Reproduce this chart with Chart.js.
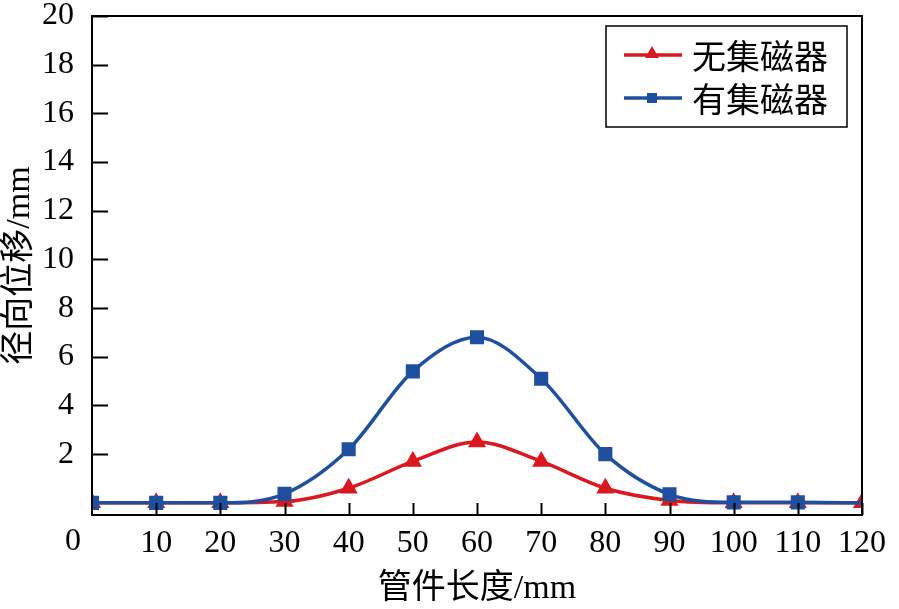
<!DOCTYPE html>
<html>
<head>
<meta charset="utf-8">
<script src="https://cdn.jsdelivr.net/npm/chart.js@4/dist/chart.umd.min.js"></script>
<style>
  html, body { margin: 0; padding: 0; background: #fff; }
  #wrap { width: 899px; height: 609px; }
</style>
</head>
<body>
<div id="wrap"><canvas id="chart" width="899" height="609"></canvas></div>
<script>
const xValues = [0, 10, 20, 30, 40, 50, 60, 70, 80, 90, 100, 110, 120];
const redValues = [0, 0, 0, 0.05, 0.6, 1.7, 2.5, 1.7, 0.6, 0.1, 0, 0, 0];
const blueValues = [0, 0, 0, 0.37, 2.2, 5.4, 6.8, 5.1, 2.0, 0.35, 0.02, 0.02, 0];
const seriesNames = ["无集磁器", "有集磁器"];
const xTicks = [10, 20, 30, 40, 50, 60, 70, 80, 90, 100, 110, 120];
const yTicks = [2, 4, 6, 8, 10, 12, 14, 16, 18, 20];

const red = "#d9191f";
const blue = "#1f4f9e";
const tickFont = { family: "'Liberation Serif', 'Times New Roman', serif", size: 32 };
const titleFont = { family: "'Liberation Serif', 'Noto Sans CJK SC', serif", size: 34 };

const toPoints = (vals) => xValues.map((x, i) => ({ x: x, y: vals[i] }));

// inward ticks, frame, origin label and legend box
const framePlugin = {
  id: "frame",
  afterDraw(chart) {
    const ctx = chart.ctx;
    const a = chart.chartArea;
    const xs = chart.scales.x;
    const ys = chart.scales.y;
    ctx.save();
    ctx.strokeStyle = "#000";
    ctx.lineWidth = 2;
    ctx.strokeRect(a.left, a.top, a.right - a.left, a.bottom - a.top);
    ctx.beginPath();
    yTicks.forEach(v => {
      const y = Math.round(ys.getPixelForValue(v)) + 0.5;
      ctx.moveTo(a.left, y);
      ctx.lineTo(a.left + 16, y);
    });
    xTicks.forEach(v => {
      const x = Math.round(xs.getPixelForValue(v)) + 0.5;
      ctx.moveTo(x, a.bottom);
      ctx.lineTo(x, a.bottom - 12);
    });
    ctx.stroke();

    ctx.fillStyle = "#000";
    ctx.font = tickFont.size + "px " + tickFont.family;
    ctx.textAlign = "center";
    ctx.textBaseline = "middle";
    ctx.fillText("0", a.left - 19, a.bottom + 27);

    // legend
    const lx = a.right - 256, ly = a.top + 10, lw = 241, lh = 101;
    ctx.lineWidth = 1.5;
    ctx.strokeStyle = "#000";
    ctx.strokeRect(lx, ly, lw, lh);
    const colors = [red, blue];
    seriesNames.forEach((name, i) => {
      const cy = ly + 29 + i * 43;
      ctx.strokeStyle = colors[i];
      ctx.fillStyle = colors[i];
      ctx.lineWidth = 3.5;
      ctx.beginPath();
      ctx.moveTo(lx + 18, cy);
      ctx.lineTo(lx + 76, cy);
      ctx.stroke();
      const cx = lx + 46;
      ctx.beginPath();
      if (i === 0) {
        ctx.moveTo(cx, cy - 9);
        ctx.lineTo(cx + 7, cy + 3);
        ctx.lineTo(cx - 7, cy + 3);
        ctx.closePath();
      } else {
        ctx.rect(cx - 5, cy - 5, 10, 10);
      }
      ctx.fill();
      ctx.fillStyle = "#000";
      ctx.font = "34px 'Noto Sans CJK SC', serif";
      ctx.textAlign = "left";
      ctx.textBaseline = "middle";
      ctx.fillText(name, lx + 86, cy + 1);
    });
    ctx.restore();
  }
};

new Chart("chart", {
  type: "line",
  data: {
    datasets: [{
      label: seriesNames[0],
      data: toPoints(redValues),
      borderColor: red,
      backgroundColor: red,
      borderWidth: 3.5,
      pointStyle: "triangle",
      pointRadius: 7,
      cubicInterpolationMode: "monotone",
      order: 1
    }, {
      label: seriesNames[1],
      data: toPoints(blueValues),
      borderColor: blue,
      backgroundColor: blue,
      borderWidth: 3.5,
      pointStyle: "rect",
      pointRadius: xValues.map((x, i) => i === xValues.length - 1 ? 0 : 7.5),
      cubicInterpolationMode: "monotone",
      order: 0
    }]
  },
  options: {
    responsive: false,
    animation: false,
    layout: { padding: { top: 16, right: 37, left: 0, bottom: 0 } },
    plugins: { legend: { display: false }, tooltip: { enabled: false } },
    scales: {
      x: {
        type: "linear",
        min: 0,
        max: 120,
        afterBuildTicks: (s) => { s.ticks = xTicks.map(v => ({ value: v })); },
        afterFit: (s) => { s.height = 94; s.paddingRight = 0; s.paddingLeft = 0; },
        grid: { display: false },
        border: { display: false },
        ticks: { color: "#000", font: tickFont, padding: 1, maxRotation: 0, autoSkip: false },
        title: { display: true, text: "管件长度/mm", color: "#000", font: titleFont, padding: { top: 0, bottom: 0 } }
      },
      y: {
        min: -0.5,
        max: 20,
        afterBuildTicks: (s) => { s.ticks = yTicks.map(v => ({ value: v })); },
        afterFit: (s) => { s.width = 92; s.paddingTop = 0; s.paddingBottom = 0; },
        grid: { display: false },
        border: { display: false },
        ticks: { color: "#000", font: tickFont, padding: 10, autoSkip: false },
        title: { display: true, text: "径向位移/mm", color: "#000", font: titleFont, padding: { top: 0, bottom: 0 } }
      }
    }
  },
  plugins: [framePlugin]
});
</script>
</body>
</html>
